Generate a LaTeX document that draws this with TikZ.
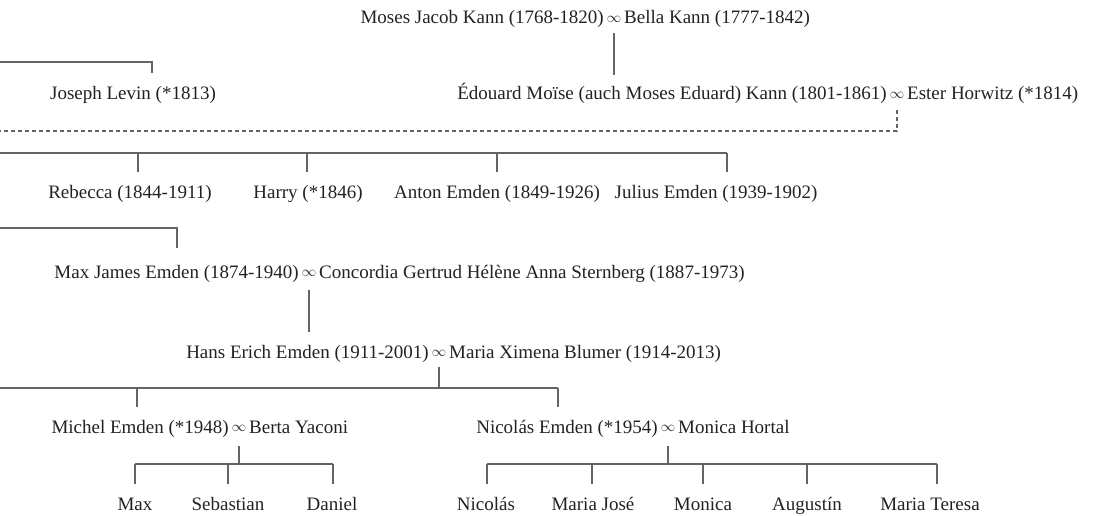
\documentclass[tikz,border=0pt]{standalone}
\usepackage{fontspec}
\setmainfont{Liberation Serif}
\definecolor{txtc}{RGB}{34,34,34}
\definecolor{linec}{RGB}{100,100,100}
\begin{document}
\begin{tikzpicture}[x=1pt,y=-1pt,
  every node/.style={inner sep=0pt, outer sep=0pt, text=txtc, font=\fontsize{19}{22}\selectfont},
  person/.style={anchor=base},
  lpart/.style={anchor=base east},
  rpart/.style={anchor=base west},
  marr/.style={anchor=base, font=\fontsize{15}{17}\selectfont},
  link/.style={draw=linec, line width=1.1pt},
  dlink/.style={link, dash pattern=on 4pt off 3pt}]
\useasboundingbox (0,0) rectangle (1094,516);

% row 1
\node[marr] (m1) at (614,24) {\raisebox{1.5pt}{$\infty$}};
\node[lpart] (moses) at ([xshift=-3pt]m1.base west) {Moses Jacob Kann (1768-1820)};
\node[rpart] (bella) at ([xshift=3pt]m1.base east) {Bella Kann (1777-1842)};

% row 2
\node[person] (joseph) at (133,100) {Joseph Levin (*1813)};
\node[marr] (m2) at (897,100) {\raisebox{1.5pt}{$\infty$}};
\node[lpart] (edouard) at ([xshift=-3pt]m2.base west) {Édouard Moïse (auch Moses Eduard) Kann (1801-1861)};
\node[rpart] (ester) at ([xshift=3pt]m2.base east) {Ester Horwitz (*1814)};

% row 3
\node[person] (rebecca) at (130,198) {Rebecca (1844-1911)};
\node[person] (harry) at (308,198) {Harry (*1846)};
\node[person] (anton) at (497,198) {Anton Emden (1849-1926)};
\node[person] (julius) at (716,198) {Julius Emden (1939-1902)};

% row 4
\node[marr] (m3) at (309,278) {\raisebox{1.5pt}{$\infty$}};
\node[lpart] (max) at ([xshift=-3pt]m3.base west) {Max James Emden (1874-1940)};
\node[rpart] (concordia) at ([xshift=3pt]m3.base east) {Concordia Gertrud Hélène Anna Sternberg (1887-1973)};

% row 5
\node[marr] (m4) at (439,358) {\raisebox{1.5pt}{$\infty$}};
\node[lpart] (hans) at ([xshift=-3pt]m4.base west) {Hans Erich Emden (1911-2001)};
\node[rpart] (maria) at ([xshift=3pt]m4.base east) {Maria Ximena Blumer (1914-2013)};

% row 6
\node[marr] (m5) at (239,433) {\raisebox{1.5pt}{$\infty$}};
\node[lpart] (michel) at ([xshift=-3pt]m5.base west) {Michel Emden (*1948)};
\node[rpart] (berta) at ([xshift=3pt]m5.base east) {Berta Yaconi};
\node[marr] (m6) at (668,433) {\raisebox{1.5pt}{$\infty$}};
\node[lpart] (nicolasE) at ([xshift=-3pt]m6.base west) {Nicolás Emden (*1954)};
\node[rpart] (monicaH) at ([xshift=3pt]m6.base east) {Monica Hortal};

% row 7
\node[person] (cmax) at (135,510) {Max};
\node[person] (csebastian) at (228,510) {Sebastian};
\node[person] (cdaniel) at (332,510) {Daniel};
\node[person] (cnicolas) at (486,510) {Nicolás};
\node[person] (cmariajose) at (593,510) {Maria José};
\node[person] (cmonica) at (703,510) {Monica};
\node[person] (caugustin) at (807,510) {Augustín};
\node[person] (cmariateresa) at (930,510) {Maria Teresa};

% connectors
\draw[link] (m1 |- 0,33) -- (m1 |- 0,75);
\coordinate (jl) at (0,62);
\coordinate (jd) at (152,73);
\draw[link] (jl) -| (jd);
\coordinate (dl) at (0,131);
\draw[dlink] (m2 |- 0,110) |- (dl);

\coordinate (b3l) at (0,153);
\draw[link] (b3l) -- (727,153);
\foreach \x in {138,307,497,727} \draw[link] (\x,153) -- (\x,172);

\coordinate (b4l) at (0,228);
\coordinate (b4d) at (177,248);
\draw[link] (b4l) -| (b4d);

\draw[link] (m3 |- 0,290) -- (m3 |- 0,332);

\draw[link] (m4 |- 0,367) -- (m4 |- 0,388);
\coordinate (b5l) at (0,388);
\draw[link] (b5l) -- (558,388);
\foreach \x in {137,558} \draw[link] (\x,388) -- (\x,407);

\draw[link] (m5 |- 0,446) -- (m5 |- 0,464);
\draw[link] (135,464) -- (333,464);
\foreach \x in {135,228,333} \draw[link] (\x,464) -- (\x,484);

\draw[link] (m6 |- 0,446) -- (m6 |- 0,464);
\draw[link] (487,464) -- (937,464);
\foreach \x in {487,592,703,807,937} \draw[link] (\x,464) -- (\x,484);
\end{tikzpicture}
\end{document}
